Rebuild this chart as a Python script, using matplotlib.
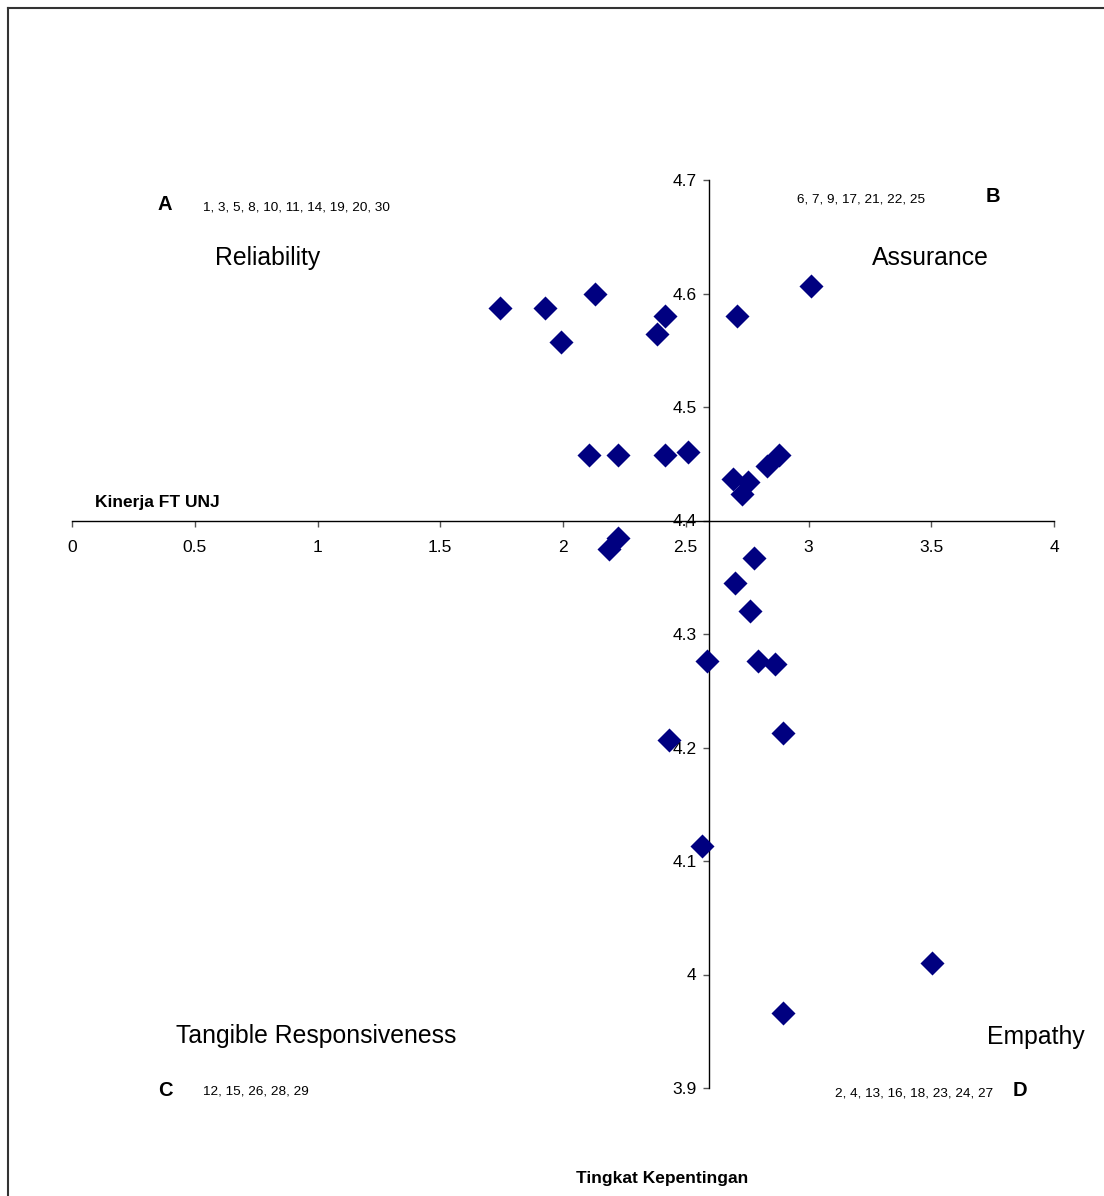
import matplotlib
matplotlib.use("Agg")
import matplotlib.pyplot as plt
from matplotlib.lines import Line2D

plt.rcParams['font.family'] = ['Liberation Sans', 'DejaVu Sans']

# Data: (Kinerja, Kepentingan) pairs
x_vals = [1.743, 1.927, 2.130, 1.992, 2.415, 2.383, 2.709, 3.010,
          2.106, 2.224, 2.415, 2.509, 2.692, 2.831, 2.880, 2.754, 2.729,
          2.224, 2.187, 2.778, 2.701, 2.762, 2.587, 2.794, 2.864,
          2.432, 2.896, 2.566, 3.503, 2.896]
y_vals = [4.587, 4.587, 4.600, 4.557, 4.580, 4.564, 4.580, 4.607,
          4.458, 4.458, 4.458, 4.460, 4.437, 4.448, 4.458, 4.434, 4.423,
          4.385, 4.375, 4.367, 4.345, 4.320, 4.276, 4.276, 4.274,
          4.207, 4.213, 4.113, 4.010, 3.966]
x_ticks = [0, 0.5, 1, 1.5, 2, 2.5, 3, 3.5, 4]
x_tick_labels = ['0', '0.5', '1', '1.5', '2', '2.5', '3', '3.5', '4']
y_ticks = [3.9, 4.0, 4.1, 4.2, 4.3, 4.4, 4.5, 4.6, 4.7]
y_tick_labels = ['3.9', '4', '4.1', '4.2', '4.3', '4.4', '4.5', '4.6', '4.7']
x_cross = 2.595   # where the vertical axis crosses
y_cross = 4.4     # where the horizontal axis crosses
quadrant_letters = ['A', 'B', 'C', 'D']
quadrant_items = ['1, 3, 5, 8, 10, 11, 14, 19, 20, 30',
                  '6, 7, 9, 17, 21, 22, 25',
                  '12, 15, 26, 28, 29',
                  '2, 4, 13, 16, 18, 23, 24, 27']
quadrant_names = ['Reliability', 'Assurance', 'Tangible Responsiveness', 'Empathy']

W, H = 1104, 1196
fig = plt.figure(figsize=(W / 100, H / 100), dpi=100)

def fx(px):
    return px / W

def fy(py):
    return 1 - py / H

ax = fig.add_axes([fx(72), fy(1088), (1054 - 72) / W, (1088 - 180) / H])
ax.scatter(x_vals, y_vals, marker='D', s=150, color='#000080', zorder=3,
           linewidths=0, clip_on=False)
ax.set_xlim(0, 4)
ax.set_ylim(3.9, 4.7)

ax.spines['top'].set_visible(False)
ax.spines['right'].set_visible(False)
ax.spines['left'].set_position(('data', x_cross))
ax.spines['bottom'].set_position(('data', y_cross))
for s in ('left', 'bottom'):
    ax.spines[s].set_linewidth(1.0)
    ax.spines[s].set_color('black')

ax.set_xticks(x_ticks)
ax.set_xticklabels(x_tick_labels)
ax.set_yticks(y_ticks)
ax.set_yticklabels(y_tick_labels)
ax.tick_params(axis='x', direction='out', length=4, width=1, color='#555555',
               pad=10, labelsize=12.5)
ax.tick_params(axis='y', direction='out', length=4, width=1, color='#555555',
               pad=5, labelsize=12.5)

# Axis titles
fig.text(fx(95), fy(502), 'Kinerja FT UNJ', fontsize=12.5, fontweight='bold',
         ha='left', va='center')
fig.text(fx(662), fy(1179), 'Tingkat Kepentingan', fontsize=12.5, fontweight='bold',
         ha='center', va='center')

# Quadrant annotations
letter_pos = [(165, 205), (993, 196), (165, 1090), (1020, 1091)]
items_pos = [(203, 207, 'left'), (925, 199, 'right'), (203, 1092, 'left'), (993, 1094, 'right')]
name_pos = [(268, 258), (930, 258), (316, 1036), (1036, 1037)]
for i in range(4):
    lx, ly = letter_pos[i]
    fig.text(fx(lx), fy(ly), quadrant_letters[i], fontsize=14.5, fontweight='bold',
             ha='center', va='center')
    ix, iy, ha = items_pos[i]
    fig.text(fx(ix), fy(iy), quadrant_items[i], fontsize=9.7, ha=ha, va='center')
    nx, ny = name_pos[i]
    fig.text(fx(nx), fy(ny), quadrant_names[i], fontsize=17.8, ha='center', va='center')

# Outer frame (top and left edges visible)
fig.add_artist(Line2D([fx(8), 1], [fy(8), fy(8)], color='#333333', linewidth=1.5))
fig.add_artist(Line2D([fx(8), fx(8)], [fy(8), 0], color='#333333', linewidth=1.5))

fig.savefig('out.png', dpi=100)
